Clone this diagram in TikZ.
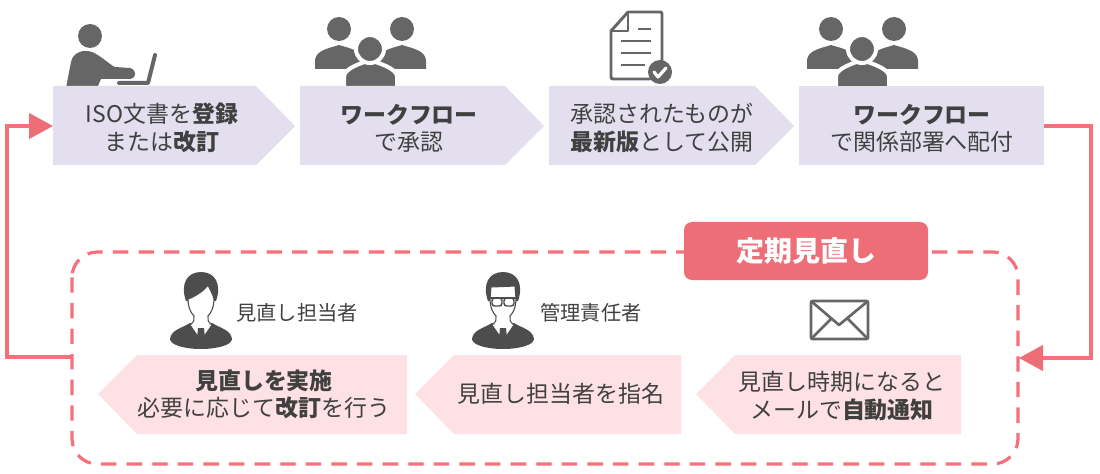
\documentclass[tikz,border=0pt]{standalone}
\usepackage{fontspec}
\setmainfont{Noto Sans CJK JP}
\usetikzlibrary{arrows.meta}
\definecolor{boxpurple}{HTML}{E3DFEE}
\definecolor{boxpink}{HTML}{FDE1E4}
\definecolor{redline}{HTML}{F5707A}
\definecolor{redfill}{HTML}{EE6E77}
\definecolor{icongray}{HTML}{666666}
\definecolor{icondark}{HTML}{4D4D4D}
\definecolor{txt}{HTML}{404040}
\tikzset{
  purplebox/.style={fill=boxpurple},
  pinkbox/.style={fill=boxpink},
  label/.style={font=\fontsize{17.2}{20.5}\selectfont,text=txt,align=center,inner sep=0pt},
  small/.style={font=\fontsize{15.2}{18}\selectfont,text=txt,inner sep=0pt},
  flow/.style={draw=redline,line width=2.4pt,-{Triangle[length=18pt,width=19pt,color=redfill]}},
  dashbox/.style={draw=redline,line width=2.4pt,dash pattern=on 11.5pt off 7.7pt,rounded corners=19pt},
  title/.style={fill=redfill,rounded corners=6pt,text=white,font=\fontsize{21}{24}\selectfont\bfseries,inner sep=0pt,minimum width=183pt,minimum height=43.5pt},
}
\newcommand{\grouppic}[1]{%
  \begin{scope}[xshift=#1*.75pt]
    \fill[icongray] (339,29) circle (12);
    \fill[icongray] (402,29) circle (12);
    \fill[icongray] (315,69) -- (315,60) .. controls (316,50) and (330,48) .. (339,45) .. controls (348,48) and (362,50) .. (363,60) -- (363,69) -- cycle;
    \fill[icongray] (378,69) -- (378,60) .. controls (379,50) and (393,48) .. (402,45) .. controls (411,48) and (425,50) .. (426,60) -- (426,69) -- cycle;
    \fill[icongray,draw=white,line width=3pt] (344,90) -- (344,76) .. controls (345,68) and (362,63) .. (370,60) .. controls (378,63) and (396,68) .. (397,76) -- (397,90) -- cycle;
    \fill[icongray,draw=white,line width=3pt] (370,49) circle (14);
  \end{scope}}
% #1 x shift, #2 hairline of the face from (188,299) to (214,299)
\newcommand{\managerpic}[2]{%
  \begin{scope}[xshift=#1*.75pt]
    % body
    \fill[icondark] (170,339) .. controls (171,330) and (182,328) .. (190,323) -- (212,323) .. controls (220,328) and (231,330) .. (232,339) .. controls (232,345) and (217,349) .. (201,349) .. controls (185,349) and (170,345) .. (170,339) -- cycle;
    % hair
    \fill[icondark] (186,301) .. controls (180,284) and (187,272) .. (201,272) .. controls (215,272) and (222,284) .. (216,301) -- cycle;
    % face and neck
    \fill[white,draw=icondark,line width=.8pt] (188,299) #2 .. controls (214,306) and (212,312) .. (208,316) .. controls (207,319) and (208,322) .. (212,325) -- (201,341) -- (190,325) .. controls (194,322) and (195,319) .. (194,316) .. controls (190,312) and (188,306) .. (188,299) -- cycle;
    % tie
    \fill[icondark] (198,328) -- (204,328) -- (205,338) -- (201,345) -- (197,338) -- cycle;
  \end{scope}}
\begin{document}
\begin{tikzpicture}[x=.75pt,y=-.75pt]
\useasboundingbox (0,0) rectangle (1100,474);
% icons behind the boxes
\fill[icongray] (90,36) circle (12);
\fill[icongray] (66,88) -- (71,62) .. controls (73,52) and (84,49) .. (92,52) .. controls (100,55) and (110,65) .. (115,67) -- (130,68) .. controls (137,70) and (137,78) .. (130,79) -- (101,79) -- (97,88) -- cycle;
\draw[icongray,line width=3pt,line cap=round,line join=round] (155,55) -- (148,83) -- (119,83);
\grouppic{0}
\grouppic{492}
% top boxes
\fill[purplebox] (53,86) -- (256,86) -- (295,126) -- (256,165) -- (53,165) -- cycle;
\fill[purplebox] (300,86) -- (505,86) -- (544,126) -- (505,165) -- (300,165) -- cycle;
\fill[purplebox] (549,86) -- (755,86) -- (794,126) -- (755,165) -- (549,165) -- cycle;
\fill[purplebox] (799,86) rectangle (1044,165);
\coordinate (in1) at (53,126);
\coordinate (out4) at (1044,126);
\node[label] (t1) at (162,128) {ISO文書を\textbf{登録}\\または\textbf{改訂}};
\node[label] (t2) at (409,128) {\textbf{ワークフロー}\\で承認};
\node[label] (t3) at (662,128) {承認されたものが\\\textbf{最新版}として公開};
\node[label] (t4) at (922,128) {\textbf{ワークフロー}\\で関係部署へ配付};
% dashed frame
\draw[dashbox] (72,252) rectangle (1018,464);
\coordinate (frameR) at (1019,358);
\coordinate (frameL) at (72,357);
\node[title] (ttl) at (806,251) {定期見直し};
% bottom boxes
\fill[pinkbox] (98,394) -- (137,355) -- (407,355) -- (407,434) -- (137,434) -- cycle;
\fill[pinkbox] (415,394) -- (454,355) -- (681,355) -- (681,434) -- (454,434) -- cycle;
\fill[pinkbox] (696,394) -- (735,355) -- (961,355) -- (961,434) -- (735,434) -- cycle;
\node[label] (b1) at (264,394) {\textbf{見直しを実施}\\必要に応じて\textbf{改訂}を行う};
\node[label] (b2) at (561,394) {見直し担当者を指名};
\node[label] (b3) at (842,396) {見直し時期になると\\メールで\textbf{自動通知}};
\node[small,anchor=west] (p1) at (236,313) {見直し担当者};
\node[small,anchor=west] (p2) at (540,313) {管理責任者};
% connectors
\draw[flow] (out4) -| (1091,358) -- (frameR);
\draw[flow] (frameL) -- (7,357) |- (in1);
% document icon
\draw[icongray,line width=2.2pt,line join=round,line cap=round] (662,62) -- (662,14) .. controls (662,12) and (661,12) .. (660,12) -- (628,12) -- (611,31) -- (611,77) .. controls (611,79) and (612,79) .. (614,79) -- (650,79);
\draw[icongray,line width=2.2pt,line join=round] (628,12) -- (628,31) -- (611,31);
\draw[icongray,line width=2.2pt] (638,29) -- (651,29) (621,41) -- (651,41) (621,53) -- (651,53) (621,65) -- (645,65);
\fill[icongray] (660,72) circle (12);
\draw[white,line width=2.4pt,line cap=round,line join=round] (654,72) -- (658,77) -- (666,68);
% managers
\managerpic{0}{.. controls (194,297) and (204,291) .. (208,285) .. controls (210,290) and (213,294) .. (214,299)}
\managerpic{302}{-- (189,287) -- (213,286) -- (214,299)}
\begin{scope}[xshift=302*.75pt,icondark,line width=1.1pt]
  \draw[rounded corners=2pt] (190,298) rectangle (200,306);
  \draw[rounded corners=2pt] (202,298) rectangle (212,306);
  \draw[line width=1.6pt] (185,298) -- (217,298);
\end{scope}
% mail icon
\draw[icongray,line width=2.2pt,rounded corners=1.5pt] (811,301) rectangle (868,339);
\draw[icongray,line width=2pt,line join=round] (811,301) -- (839,325) -- (868,301) (811,339) -- (831,319) (868,339) -- (848,319);
\end{tikzpicture}
\end{document}
